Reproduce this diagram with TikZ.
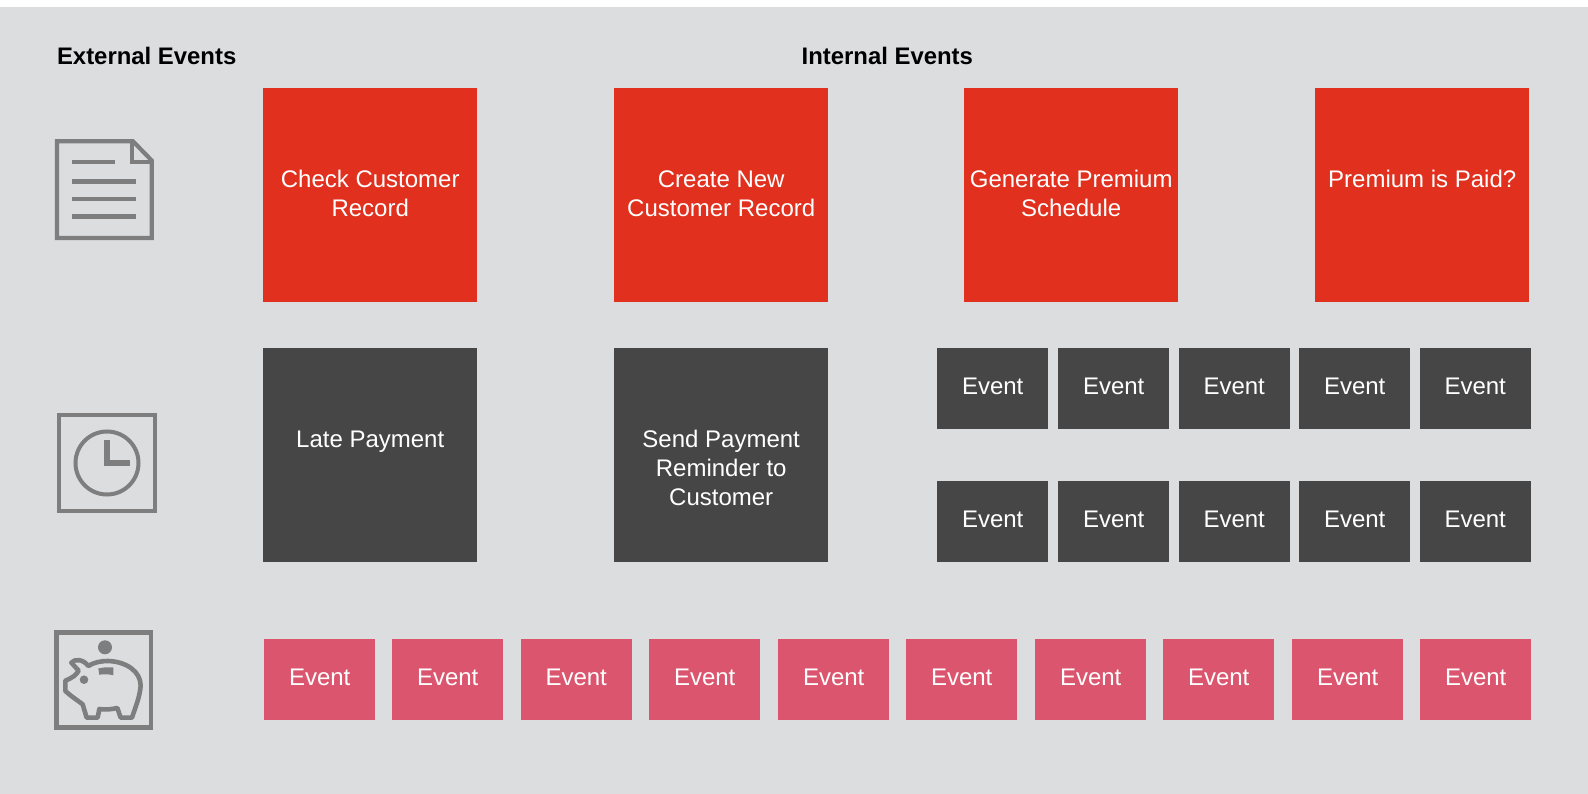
\documentclass[tikz,border=0pt]{standalone}
\usepackage{fontspec}
\setmainfont{Liberation Sans}
\usepackage{tikz}
\definecolor{panel}{HTML}{DCDDDF}
\definecolor{recordRed}{HTML}{E1301E}
\definecolor{timerDark}{HTML}{464646}
\definecolor{moneyPink}{HTML}{DC556E}
\definecolor{iconGray}{HTML}{7E7E7E}
% text hangs from the top of the box
\newcommand{\hangtext}[3]{\parbox[c][#1pt][t]{#1pt}{\centering\rule{0pt}{#2pt}#3\par}}
\newcommand{\hangevent}{\parbox[c][81pt][t]{111pt}{\centering\rule{0pt}{46.3pt}Event\par}}
\tikzset{
  x=1pt,
  y=-1pt,
  boxtext/.style={
    anchor=north west,
    inner sep=0pt,
    text=white,
    font=\fontsize{24}{28.8}\selectfont,
  },
  bigred/.style={boxtext,fill=recordRed},
  bigdark/.style={boxtext,fill=timerDark},
  smalldark/.style={boxtext,fill=timerDark},
  smallpink/.style={boxtext,fill=moneyPink},
  heading/.style={font=\bfseries\fontsize{23.9}{28}\selectfont,inner sep=0pt},
  icon/.style={draw=iconGray,line join=miter},
}
\begin{document}
\begin{tikzpicture}
\useasboundingbox (0,0) rectangle (1588,794);
\fill[panel] (0,7) rectangle (1588,794);
\node[heading] (external) at (146.7,56) {External Events};
\node[heading] (internal) at (887.3,56) {Internal Events};
% first row
\node[bigred] (check) at (263,88) {\hangtext{214}{99.5}{Check Customer\\Record}};
\node[bigred] (create) at (614,88) {\hangtext{214}{99.5}{Create New\\Customer Record}};
\node[bigred] (schedule) at (964,88) {\hangtext{214}{99.5}{Generate Premium\\Schedule}};
\node[bigred] (paid) at (1315,88) {\hangtext{214}{99.5}{Premium is Paid?}};
% second row
\node[bigdark] (late) at (263,348) {\hangtext{214}{99.5}{Late Payment}};
\node[bigdark] (reminder) at (614,348) {\hangtext{214}{99.5}{Send Payment\\Reminder to\\Customer}};
\foreach \i/\xpos in {1/937,2/1058,3/1178.5,4/1299,5/1419.5} {
  \node[smalldark] (upper\i) at (\xpos,348) {\hangevent};
  \node[smalldark] (lower\i) at (\xpos,481) {\hangevent};
}
% third row
\foreach \i/\xpos in {1/264,2/392,3/520.5,4/649,5/778,6/906,7/1035,8/1163,9/1292,10/1420} {
  \node[smallpink] (money\i) at (\xpos,639) {\hangevent};
}
% document icon
\draw[icon,line width=4.2pt] (133,141.3) -- (57,141.3) -- (57,238) -- (151.7,238) -- (151.7,160.5) -- cycle;
\draw[icon,line width=4.2pt] (131.7,141.3) -- (131.7,162) -- (151.7,162);
\foreach \ypos/\xend in {162/115,181.3/136,199/136,216.5/136} {
  \draw[icon,line width=4.6pt] (72,\ypos) -- (\xend,\ypos);
}
% clock icon
\draw[icon,line width=4.8pt] (59,415) rectangle (155,511);
\draw[icon,line width=4pt] (107,463) circle (31.5);
\draw[icon,line width=5.4pt] (107,440) -- (107,463) -- (130,463);
% piggy bank icon
\draw[icon,line width=4.7pt] (56.3,632.3) rectangle (151,727.4);
\fill[iconGray] (105,647.3) circle (7);
\fill[iconGray] (84,679.7) circle (4.3);
\fill[iconGray] (98.3,668.5) .. controls (103,667.3) and (108,667) .. (113.3,667.5) -- (113.3,675.2) .. controls (108,674) and (103,674) .. (99.3,674.8) -- cycle;
\begin{scope}[shift={(30,615)},x=0.3333pt,y=-0.3333pt]
\draw[icon,line width=4.6pt,line join=round] (175,153) .. controls (160,133) and (135,130) .. (124,143)
  -- (146,167) .. controls (138,180) and (130,187) .. (106,197) -- (106,228) .. controls (125,245) and (145,258) .. (158,268)
  -- (170,308) -- (203,308) -- (208,282) .. controls (225,285) and (245,283) .. (262,279) -- (272,308) -- (306,308)
  .. controls (315,280) and (330,245) .. (332,212) .. controls (332,170) and (290,140) .. (235,138) .. controls (210,138) and (190,143) .. (175,153) -- cycle;
\end{scope}
\end{tikzpicture}
\end{document}
